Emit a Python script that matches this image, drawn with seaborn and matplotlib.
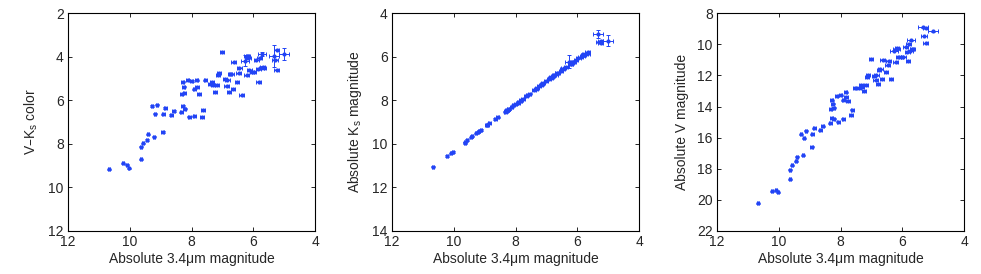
"""Cor e magnitudes absolutas em função da magnitude absoluta em 3.4 µm (três painéis)."""

import matplotlib
matplotlib.use("Agg")
import matplotlib.pyplot as plt
import seaborn as sns

sns.set_style("ticks")
plt.rcParams["font.family"] = ["Liberation Sans", "DejaVu Sans"]
plt.rcParams["mathtext.default"] = "regular"

BLUE = "#2244f5"

# magnitude absoluta em 3.4 µm (eixo x, comum aos três painéis)
w1 = [10.68, 10.22, 10.08, 10.04, 9.65, 9.63, 9.56, 9.45, 9.41, 9.23,
      9.28, 9.19, 9.13, 8.93, 8.91, 8.85, 8.66, 8.58, 8.34, 8.32,
      8.29, 8.29, 8.26, 8.23, 8.22, 8.12, 8.07, 7.99, 7.92, 7.92,
      7.84, 7.83, 7.75, 7.66, 7.62, 7.55, 7.40, 7.34, 7.31, 7.25,
      7.17, 7.15, 7.11, 7.02, 6.91, 6.87, 6.84, 6.80, 6.76, 6.71,
      6.67, 6.64, 6.53, 6.48, 6.45, 6.38, 6.27, 6.22, 6.18, 6.16,
      6.22, 6.13, 6.05, 5.97, 5.90, 5.84, 5.82, 5.79, 5.74, 5.72,
      5.69, 5.66, 5.33, 5.25, 5.29, 5.25, 5.02]
w1_err = [0.03, 0.03, 0.03, 0.03, 0.03, 0.03, 0.03, 0.03, 0.03, 0.03,
          0.03, 0.03, 0.03, 0.05, 0.05, 0.05, 0.05, 0.05, 0.05, 0.05,
          0.05, 0.05, 0.05, 0.05, 0.05, 0.05, 0.05, 0.05, 0.05, 0.05,
          0.06, 0.06, 0.06, 0.06, 0.06, 0.06, 0.07, 0.07, 0.07, 0.07,
          0.07, 0.07, 0.07, 0.07, 0.07, 0.07, 0.07, 0.07, 0.07, 0.07,
          0.07, 0.07, 0.07, 0.07, 0.07, 0.07, 0.13, 0.07, 0.07, 0.07,
          0.07, 0.07, 0.07, 0.07, 0.08, 0.08, 0.08, 0.08, 0.08, 0.12,
          0.08, 0.08, 0.15, 0.09, 0.10, 0.09, 0.16]

# cor V-Ks
vk = [9.17, 8.89, 8.95, 9.12, 8.71, 8.13, 7.97, 7.82, 7.57, 7.67,
      6.26, 6.61, 6.20, 7.45, 6.64, 6.35, 6.67, 6.49, 6.56, 5.69,
      6.26, 5.15, 5.38, 5.68, 6.38, 5.05, 6.76, 5.11, 6.73, 5.49,
      5.08, 5.40, 5.71, 6.76, 6.44, 5.08, 5.25, 5.14, 5.31, 5.63,
      5.32, 4.83, 4.76, 3.79, 5.02, 5.34, 5.05, 5.64, 4.78, 4.79,
      5.49, 4.25, 5.15, 4.76, 4.51, 5.77, 4.19, 3.96, 3.95, 4.07,
      4.85, 4.60, 4.68, 4.71, 4.14, 4.56, 5.15, 4.05, 4.54, 3.87,
      4.46, 4.50, 3.96, 3.68, 4.14, 4.60, 3.88]
vk_err = [0.03] * 56 + [0.25] + [0.03] * 12 + [0.10] + [0.03] * 2 + [0.50] + [0.03] * 3 + [0.27]

# magnitude absoluta Ks
ks = [11.04, 10.56, 10.43, 10.38, 9.96, 9.93, 9.82, 9.70, 9.65, 9.46,
      9.51, 9.42, 9.36, 9.15, 9.13, 9.06, 8.86, 8.79, 8.53, 8.50,
      8.49, 8.46, 8.45, 8.41, 8.40, 8.29, 8.23, 8.17, 8.07, 8.11,
      8.01, 7.99, 7.93, 7.80, 7.77, 7.70, 7.53, 7.46, 7.43, 7.36,
      7.30, 7.26, 7.21, 7.13, 7.01, 6.98, 6.93, 6.90, 6.86, 6.82,
      6.76, 6.74, 6.64, 6.58, 6.54, 6.48, 6.24, 6.33, 6.28, 6.26,
      6.32, 6.23, 6.16, 6.08, 6.02, 5.96, 5.93, 5.91, 5.87, 5.86,
      5.82, 5.80, 4.96, 5.30, 5.33, 5.35, 5.27]
ks_err = [0.03] * 56 + [0.30] + [0.03] * 15 + [0.20] + [0.03] * 3 + [0.25]

# magnitude absoluta V
vmag = [20.21, 19.45, 19.38, 19.50, 18.67, 18.06, 17.79, 17.52, 17.22, 17.13,
        15.77, 16.03, 15.56, 16.60, 15.77, 15.41, 15.53, 15.28, 15.09, 14.19,
        14.75, 13.61, 13.83, 14.09, 14.78, 13.34, 14.99, 13.28, 14.80, 13.60,
        13.09, 13.39, 13.64, 14.56, 14.21, 12.78, 12.78, 12.60, 12.74, 12.99,
        12.62, 12.09, 11.97, 10.92, 12.03, 12.32, 11.98, 12.54, 11.64, 11.61,
        12.25, 10.99, 11.79, 11.34, 11.05, 12.25, 10.43, 10.29, 10.23, 10.33,
        11.17, 10.83, 10.84, 10.79, 10.16, 10.52, 11.08, 9.96, 10.41, 9.73,
        10.28, 10.30, 8.92, 8.98, 9.47, 9.95, 9.15]
vmag_err = [0.03] * len(vmag)

X_LABEL = "Absolute 3.4\u03bcm magnitude"
X_TICKS = [12, 10, 8, 6, 4]

panels = [
    (vk, vk_err, "V\u2013K$_s$ color", (12, 2), [2, 4, 6, 8, 10, 12]),
    (ks, ks_err, "Absolute K$_s$ magnitude", (14, 4), [4, 6, 8, 10, 12, 14]),
    (vmag, vmag_err, "Absolute V magnitude", (22, 8), [8, 10, 12, 14, 16, 18, 20, 22]),
]
lefts = [0.0693, 0.3996, 0.7309]

fig = plt.figure(figsize=(9.81, 2.74), dpi=100)
for left, (yv, ye, ylab, ylim, yticks) in zip(lefts, panels):
    ax = fig.add_axes([left, 0.157, 0.252, 0.795])
    ax.errorbar(w1, yv, xerr=w1_err, yerr=ye, fmt="none", ecolor=BLUE,
                elinewidth=0.7, capsize=1.6, capthick=0.7)
    sns.scatterplot(x=w1, y=yv, ax=ax, color=BLUE, s=9, linewidth=0,
                    marker="o", zorder=3)
    ax.set_xlim(12, 4)
    ax.set_ylim(*ylim)
    ax.set_xticks(X_TICKS)
    ax.set_yticks(yticks)
    ax.set_xlabel(X_LABEL, fontsize=10, labelpad=2)
    ax.set_ylabel(ylab, fontsize=10, labelpad=6)
    ax.tick_params(direction="in", length=3, width=0.7, labelsize=10,
                   top=True, right=True, pad=3)
    for sp in ax.spines.values():
        sp.set_visible(True)
        sp.set_linewidth(0.8)
        sp.set_color("black")

fig.savefig("out.png", dpi=100)
plt.close(fig)
